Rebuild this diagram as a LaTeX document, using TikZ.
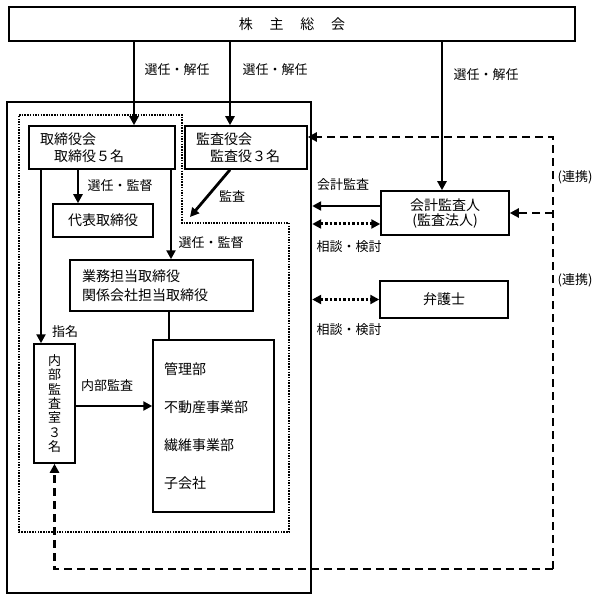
\documentclass[tikz,border=0pt]{standalone}
\usepackage{fontspec}
\setmainfont{Noto Sans CJK JP}
\usepackage{tikz}
\usetikzlibrary{arrows.meta}
\newcommand{\boxfont}{\fontsize{14}{17}\selectfont}
\newcommand{\lblfont}{\fontsize{13}{15}\selectfont}
\tikzstyle{box} =
[rectangle, draw=black, line width=1.5pt, inner sep=0pt, font=\boxfont]
\tikzstyle{lbl} =
[inner sep=0pt, font=\lblfont]
\tikzstyle{group} =
[draw, line width=1.6pt, dash pattern=on 1.5pt off 1.2pt]
\tikzstyle{line} = [draw, line width=2.8pt, -{Triangle[length=9pt,width=9pt]}]
\tikzstyle{plain} = [draw, line width=2.8pt]
\tikzstyle{dline} = [draw, line width=2.3pt, dash pattern=on 8pt off 5pt,
-{Triangle[length=9pt,width=9pt]}]
\tikzstyle{dotline} = [draw, line width=3pt, dash pattern=on 2.5pt off 2pt,
{Triangle[length=9pt,width=9pt]}-{Triangle[length=9pt,width=9pt]}]

\begin{document}
\begin{tikzpicture}[x=1pt, y=-1pt]
  \useasboundingbox (0,0) rectangle (601,601);
  % frames
  \node [rectangle, draw, line width=2.4pt, inner sep=0pt, minimum width=304pt,
   minimum height=491pt] (board) at (159,347.5) {};
  \path [group] (19,115) -| (182,223) -| (289,532) -- (19,532) -- cycle;
  %
  % boxes
  \node [box, minimum width=566pt, minimum height=34pt] (soukai) at (292,24)
   {株\hspace{1.2em}主\hspace{1.2em}総\hspace{1.2em}会};
  \node [box, minimum width=146pt, minimum height=43pt, text width=124pt,
   align=left] (torikai) at (102,147.5) {取締役会\\\hspace*{1em}取締役５名};
  \node [box, minimum width=122pt, minimum height=43pt, text width=100pt,
   align=left] (kansayaku) at (246,147.5) {監査役会\\\hspace*{1em}監査役３名};
  \node [box, minimum width=100pt, minimum height=33pt] (daihyo) at (103,220.5)
   {代表取締役};
  \node [box, minimum width=183pt, minimum height=51pt, text width=159pt,
   align=left, font=\fontsize{14}{19}\selectfont] (gyomu) at (161.5,285.5)
   {業務担当取締役\\関係会社担当取締役};
  \node [box, minimum width=41pt, minimum height=119pt, align=center,
   font=\fontsize{13}{14.3}\selectfont] (naibu) at (54.5,403.5)
   {内\\部\\監\\査\\室\\３\\名};
  \node [box, minimum width=121pt, minimum height=172pt, text width=99pt,
   align=left, font=\fontsize{14}{38}\selectfont] (kanri) at (213.5,426)
   {管理部\\不動産事業部\\繊維事業部\\子会社};
  \node [box, minimum width=128pt, minimum height=44pt, align=center,
   font=\fontsize{14}{15}\selectfont] (kaikei) at (445,213)
   {会計監査人\\(監査法人)};
  \node [box, minimum width=128pt, minimum height=37pt] (bengo) at (444,299.5)
   {弁護士};
  %
  % helper points
  \coordinate (s1) at ([xshift=32pt]torikai.north);
  \coordinate (s2) at ([xshift=-16pt]kansayaku.north);
  \coordinate (s3) at ([xshift=-3pt]kaikei.north);
  \coordinate (t1) at ([xshift=-24pt]torikai.south);
  \coordinate (t2) at ([xshift=69pt]torikai.south);
  \coordinate (t3) at ([xshift=-61pt]torikai.south);
  \coordinate (k0) at ([xshift=-16pt]kansayaku.south);
  \coordinate (kansaend) at (190,217);
  \coordinate (g1) at ([xshift=7.5pt]gyomu.south);
  \coordinate (n1) at ([yshift=-2.5pt]naibu.east);
  \coordinate (k1) at ([yshift=7pt]kaikei.west);
  \coordinate (k2) at ([yshift=-11pt]kaikei.west);
  \coordinate (k3) at ([yshift=10.5pt]kansayaku.east);
  \coordinate (dashcorner) at (553,569);
  %
  % solid edges
  \path [line] (soukai.south -| s1) -- (s1);
  \path [line] (soukai.south -| s2) -- (s2);
  \path [line] (soukai.south -| s3) -- (s3);
  \path [line] (t1) -- (t1 |- daihyo.north);
  \path [line] (t2) -- (t2 |- gyomu.north);
  \path [line] (t3) -- (t3 |- naibu.north);
  \path [line] (k0) -- (kansaend);
  \path [plain] (g1) -- (g1 |- kanri.north);
  \path [line] (n1) -- (n1 -| kanri.west);
  \path [line] (k1) -- (k1 -| board.east);
  % dotted and dashed edges
  \path [dotline] (k2 -| board.east) -- (k2);
  \path [dotline] (bengo.west -| board.east) -- (bengo.west);
  \path [dline] (dashcorner) -| (naibu.south);
  \path [dline] (dashcorner) |- (k3);
  \path [dline] (kaikei.east -| dashcorner) -- (kaikei.east);
  %
  % labels
  \node [lbl] (elect1) at (177,70) {選任・解任};
  \node [lbl] (elect2) at (275,70) {選任・解任};
  \node [lbl] (elect3) at (486,75) {選任・解任};
  \node [lbl] (superv1) at (120,186) {選任・監督};
  \node [lbl] (superv2) at (211,243) {選任・監督};
  \node [lbl] (audit) at (232,196) {監査};
  \node [lbl] (appoint) at (65,332) {指名};
  \node [lbl] (internal) at (107,386) {内部監査};
  \node [lbl] (acct) at (343,185) {会計監査};
  \node [lbl] (consult1) at (349,247) {相談・検討};
  \node [lbl] (consult2) at (349,330) {相談・検討};
  \node [lbl] (coop1) at (575,177) {(連携)};
  \node [lbl] (coop2) at (575,280) {(連携)};
\end{tikzpicture}
\end{document}
